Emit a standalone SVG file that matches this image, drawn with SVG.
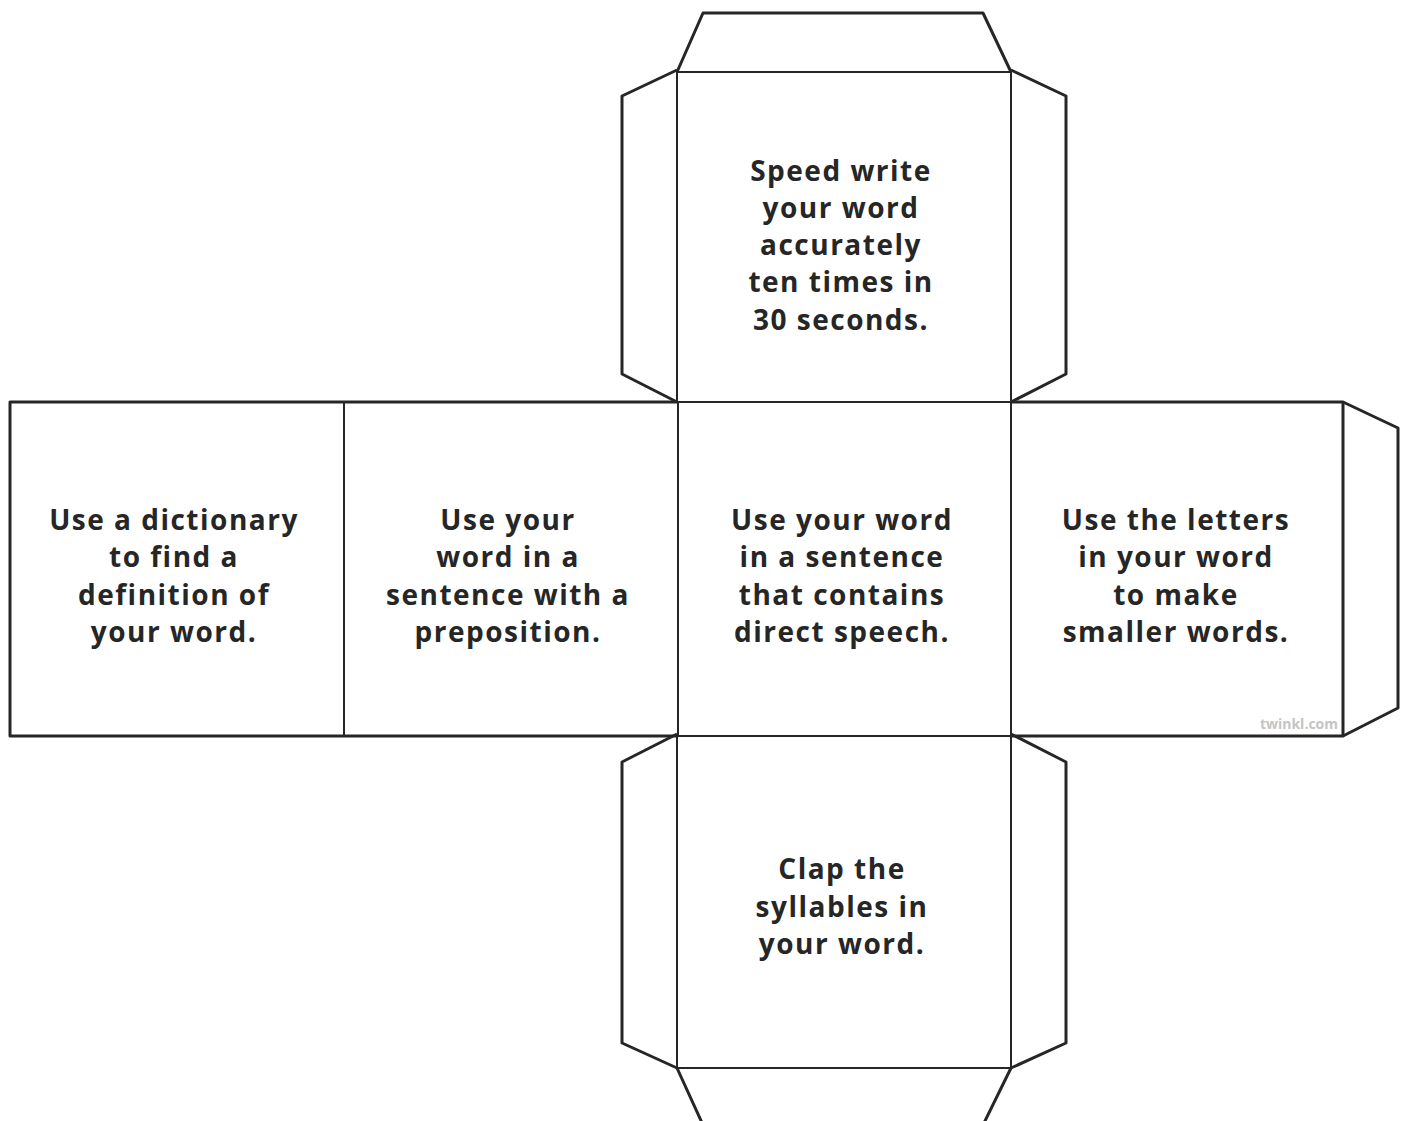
<svg xmlns="http://www.w3.org/2000/svg" width="1408" height="1121" viewBox="0 0 1408 1121">
<style>
.cut{fill:none;stroke:#262626;stroke-width:3;stroke-linejoin:round}
.fold{fill:none;stroke:#262626;stroke-width:2}
.t{font-family:"Open Sans",Lato,sans-serif;font-weight:bold;font-size:28px;letter-spacing:1.5px;fill:#262626;text-anchor:middle}
.logo{font-family:"Open Sans",sans-serif;font-weight:bold;font-size:14px;fill:#c4c4c4;text-anchor:end}
</style>
<rect width="1408" height="1121" fill="#fff"/>
<g id="tabs">
<path class="cut" d="M677,72 L703,13 L983,13 L1011,72"/>
<path class="cut" d="M677,70 L622,96 L622,374 L677,402"/>
<path class="cut" d="M1011,70 L1066,96 L1066,374 L1011,402"/>
<path class="cut" d="M1343,402 L1398,428 L1398,708 L1343,736"/>
<path class="cut" d="M677,734 L622,762 L622,1043 L677,1068"/>
<path class="cut" d="M1011,734 L1066,762 L1066,1043 L1011,1068"/>
<path class="cut" d="M677,1068 L703,1125 M1011,1068 L983,1125"/>
</g>
<g id="outline">
<path class="cut" d="M677,402 L10,402 L10,736 L677,736"/>
<path class="cut" d="M1011,402 L1343,402 L1343,736 L1011,736"/>
</g>
<g id="folds">
<rect class="fold" x="677" y="72" width="334" height="330"/>
<rect class="fold" x="677" y="736" width="334" height="332"/>
<line class="fold" x1="344" y1="402" x2="344" y2="736"/>
<line class="fold" x1="678" y1="402" x2="678" y2="736"/>
<line class="fold" x1="1011" y1="402" x2="1011" y2="736"/>
<line class="fold" x1="1343" y1="402" x2="1343" y2="736"/>
</g>
<g id="face-top">
<text class="t" x="841" y="181">Speed write</text>
<text class="t" x="841" y="218">your word</text>
<text class="t" x="841" y="255">accurately</text>
<text class="t" x="841" y="292">ten times in</text>
<text class="t" x="841" y="330">30 seconds.</text>
</g>
<g id="face-left">
<text class="t" x="174" y="530">Use a dictionary</text>
<text class="t" x="174" y="567">to find a</text>
<text class="t" x="174" y="605">definition of</text>
<text class="t" x="174" y="642">your word.</text>
</g>
<g id="face-second">
<text class="t" x="508" y="530">Use your</text>
<text class="t" x="508" y="567">word in a</text>
<text class="t" x="508" y="605">sentence with a</text>
<text class="t" x="508" y="642">preposition.</text>
</g>
<g id="face-center">
<text class="t" x="842" y="530">Use your word</text>
<text class="t" x="842" y="567">in a sentence</text>
<text class="t" x="842" y="605">that contains</text>
<text class="t" x="842" y="642">direct speech.</text>
</g>
<g id="face-right">
<text class="t" x="1176" y="530">Use the letters</text>
<text class="t" x="1176" y="567">in your word</text>
<text class="t" x="1176" y="605">to make</text>
<text class="t" x="1176" y="642">smaller words.</text>
<text class="logo" x="1338" y="729">twinkl.com</text>
</g>
<g id="face-bottom">
<text class="t" x="842" y="879">Clap the</text>
<text class="t" x="842" y="917">syllables in</text>
<text class="t" x="842" y="954">your word.</text>
</g>
</svg>
